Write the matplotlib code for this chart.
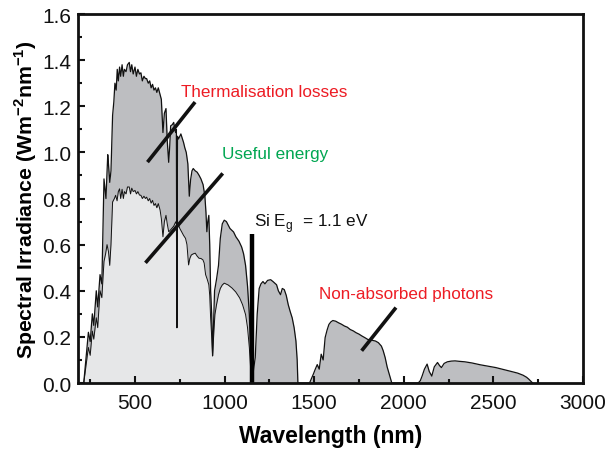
import matplotlib
matplotlib.use("Agg")
import matplotlib.pyplot as plt
from matplotlib.ticker import MultipleLocator

plt.rcParams['font.family'] = ['Liberation Sans', 'DejaVu Sans']
plt.rcParams['mathtext.fontset'] = 'custom'
plt.rcParams['mathtext.rm'] = 'Liberation Sans'
plt.rcParams['mathtext.bf'] = 'Liberation Sans:bold'

# Full solar spectrum (nm, W m^-2 nm^-1)
wl_total = [214, 240, 250, 262, 270, 284, 292, 305, 315, 327, 338, 348, 352, 359, 366, 375, 382, 388,
            395, 401, 407, 414, 420, 428, 435, 441, 450, 458, 468, 475, 482, 490, 500, 508, 516, 525,
            533, 541, 550, 558, 565, 574, 582, 590, 598, 606, 614, 622, 630, 640, 647, 652, 656, 664,
            673, 680, 688, 694, 699, 708, 716, 722, 727, 731, 734, 737, 743, 750, 756, 764, 771, 778,
            786, 795, 803, 810, 818, 825, 836, 847, 858, 868, 880, 890, 896, 901, 906, 912, 917, 922,
            928, 933, 938, 944, 955, 966, 976, 987, 998, 1010, 1030, 1050, 1063, 1080, 1095, 1106,
            1117, 1128, 1138, 1144, 1149, 1160, 1171, 1182, 1193, 1203, 1214, 1225, 1240, 1257, 1270,
            1290, 1300, 1312, 1322, 1333, 1344, 1355, 1366, 1377, 1388, 1398, 1405, 1409, 1474, 1485,
            1496, 1506, 1517, 1528, 1539, 1550, 1561, 1572, 1582, 1593, 1604, 1620, 1636, 1652, 1669,
            1685, 1701, 1718, 1734, 1750, 1766, 1782, 1799, 1820, 1842, 1858, 1875, 1885, 1896, 1907,
            1918, 1933, 2080, 2092, 2102, 2115, 2130, 2142, 2156, 2170, 2188, 2200, 2210, 2225, 2243,
            2265, 2286, 2310, 2340, 2380, 2427, 2470, 2513, 2560, 2600, 2635, 2665, 2685, 2697, 2719]
irr_total = [0.0, 0.22, 0.18, 0.30, 0.25, 0.40, 0.33, 0.47, 0.43, 0.885, 0.80, 0.99, 0.95, 0.87, 0.92,
             1.16, 1.22, 1.30, 1.27, 1.36, 1.31, 1.37, 1.33, 1.38, 1.33, 1.36, 1.35, 1.38, 1.39, 1.35,
             1.38, 1.34, 1.37, 1.33, 1.36, 1.34, 1.345, 1.31, 1.33, 1.32, 1.32, 1.30, 1.31, 1.28, 1.295,
             1.27, 1.28, 1.26, 1.28, 1.25, 1.23, 1.15, 1.086, 1.17, 1.19, 1.05, 0.957, 1.03, 1.115,
             1.12, 1.13, 1.10, 1.086, 1.10, 0.24, 1.07, 1.058, 1.07, 1.08, 1.06, 1.043, 1.02, 1.0, 0.95,
             0.81, 0.88, 0.92, 0.93, 0.92, 0.914, 0.90, 0.885, 0.86, 0.81, 0.74, 0.656, 0.70, 0.727,
             0.60, 0.40, 0.30, 0.118, 0.25, 0.40, 0.45, 0.51, 0.627, 0.69, 0.706, 0.70, 0.67, 0.655,
             0.634, 0.615, 0.59, 0.56, 0.51, 0.42, 0.297, 0.15, 0.01, 0.05, 0.11, 0.30, 0.41, 0.43, 0.44,
             0.43, 0.445, 0.448, 0.44, 0.426, 0.40, 0.383, 0.41, 0.405, 0.38, 0.34, 0.31, 0.283, 0.24,
             0.182, 0.10, 0.0, 0.0, 0.02, 0.04, 0.06, 0.08, 0.06, 0.125, 0.10, 0.197, 0.23, 0.254,
             0.265, 0.271, 0.268, 0.261, 0.255, 0.247, 0.242, 0.232, 0.226, 0.218, 0.212, 0.204, 0.197,
             0.189, 0.186, 0.182, 0.175, 0.16, 0.14, 0.11, 0.07, 0.04, 0.0, 0.0, 0.01, 0.03, 0.06,
             0.082, 0.05, 0.03, 0.07, 0.089, 0.075, 0.067, 0.085, 0.092, 0.095, 0.096, 0.094, 0.092,
             0.087, 0.079, 0.073, 0.067, 0.058, 0.05, 0.043, 0.034, 0.025, 0.017, 0.0]

# Useful energy part (below the Si band gap)
wl_useful = [214, 240, 250, 262, 270, 284, 292, 305, 315, 327, 336, 344, 352, 359, 366, 375, 385, 392,
             400, 407, 414, 420, 428, 435, 441, 450, 458, 468, 475, 482, 490, 500, 508, 516, 525, 533,
             541, 550, 558, 565, 574, 582, 590, 598, 606, 614, 622, 630, 640, 647, 652, 656, 664, 673,
             680, 688, 694, 705, 716, 727, 731, 734, 737, 743, 750, 760, 771, 782, 790, 799, 806, 814,
             825, 836, 847, 857, 868, 879, 886, 894, 903, 912, 917, 922, 928, 933, 940, 946, 955, 966,
             976, 987, 998, 1020, 1041, 1062, 1084, 1100, 1117, 1128, 1138, 1144, 1149]
irr_useful = [0.0, 0.154, 0.12, 0.225, 0.19, 0.283, 0.24, 0.40, 0.37, 0.527, 0.56, 0.60, 0.57, 0.51,
              0.60, 0.785, 0.80, 0.814, 0.79, 0.83, 0.842, 0.80, 0.84, 0.80, 0.83, 0.82, 0.85, 0.85,
              0.82, 0.845, 0.83, 0.835, 0.82, 0.83, 0.815, 0.814, 0.80, 0.81, 0.80, 0.806, 0.79, 0.80,
              0.78, 0.792, 0.77, 0.778, 0.76, 0.778, 0.75, 0.713, 0.67, 0.634, 0.70, 0.727, 0.69, 0.656,
              0.66, 0.67, 0.68, 0.699, 0.69, 0.24, 0.68, 0.685, 0.67, 0.656, 0.64, 0.627, 0.60, 0.512,
              0.54, 0.555, 0.56, 0.563, 0.55, 0.541, 0.54, 0.534, 0.52, 0.47, 0.45, 0.426, 0.38, 0.283,
              0.20, 0.118, 0.22, 0.297, 0.34, 0.383, 0.41, 0.425, 0.433, 0.425, 0.412, 0.395, 0.369,
              0.34, 0.297, 0.24, 0.154, 0.08, 0.0]

x_ticks = [500, 1000, 1500, 2000, 2500, 3000]
y_ticks = [0.0, 0.2, 0.4, 0.6, 0.8, 1.0, 1.2, 1.4, 1.6]

fig = plt.figure(figsize=(6.07, 4.52), dpi=100)
ax = fig.add_axes([0.1285, 0.1504, 0.8320, 0.8164])

ax.fill_between(wl_total, irr_total, 0, color='#bdbec1', lw=0)
ax.plot(wl_total, irr_total, color='#111111', lw=0.9)
ax.fill_between(wl_useful, irr_useful, 0, color='#e6e7e8', lw=0)
ax.plot(wl_useful, irr_useful, color='#111111', lw=0.7)

# band gap marker
ax.plot([1155, 1155], [0, 0.644], color='black', lw=3.2, solid_capstyle='butt')
ax.text(1163, 0.696, 'Si E$_{\\mathrm{g}}$  = 1.1 eV', fontsize=12.3, ha='left', va='center', color='#111111')

# annotation lines and labels
ax.plot([576, 829], [0.964, 1.212], color='#111111', lw=2.6)
ax.text(755, 1.263, 'Thermalisation losses', fontsize=12.3, color='#ed1c24', ha='left', va='center')
ax.plot([565, 983], [0.527, 0.903], color='#111111', lw=2.6)
ax.text(983, 0.996, 'Useful energy', fontsize=12.3, color='#00a651', ha='left', va='center')
ax.plot([1771, 1950], [0.146, 0.321], color='#111111', lw=2.6)
ax.text(1528, 0.39, 'Non-absorbed photons', fontsize=12.3, color='#ed1c24', ha='left', va='center')

ax.set_xlim(182, 3000)
ax.set_ylim(0, 1.6)
ax.set_xticks(x_ticks)
ax.set_yticks(y_ticks)
ax.set_yticklabels([f'{v:.1f}' for v in y_ticks])
ax.xaxis.set_minor_locator(MultipleLocator(250))
ax.yaxis.set_minor_locator(MultipleLocator(0.1))
ax.tick_params(which='both', direction='in', top=False, right=False, width=1.5, labelsize=15, colors='#111111')
ax.tick_params(which='major', length=5)
ax.tick_params(which='minor', length=3)
ax.tick_params(axis='x', pad=7)
ax.tick_params(axis='y', pad=5)
for s in ax.spines.values():
    s.set_linewidth(2.0)
    s.set_color('#111111')

ax.set_xlabel('Wavelength (nm)', fontsize=16.5, fontweight='bold', labelpad=9)
ax.set_ylabel('Spectral Irradiance (Wm$^{\\mathbf{-2}}$nm$^{\\mathbf{-1}}$)', fontsize=15.3, fontweight='bold', labelpad=2)

fig.savefig('out.png', dpi=100)
